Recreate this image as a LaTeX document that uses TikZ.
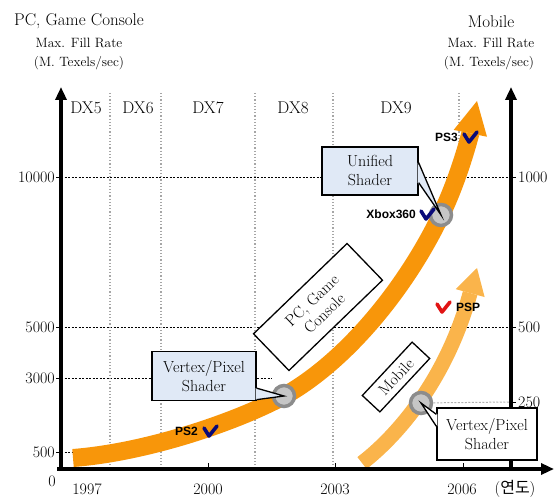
\documentclass[tikz,border=0pt]{standalone}
\usepackage{fontspec}
\newfontfamily\krfont{Noto Sans CJK KR}
\newfontfamily\tagfont{Liberation Sans}
\usetikzlibrary{arrows.meta, positioning}
\definecolor{pcorange}{RGB}{248, 150, 10}
\definecolor{moborange}{RGB}{250, 180, 75}
\definecolor{calloutblue}{RGB}{224, 233, 246}
\definecolor{checknavy}{RGB}{10, 10, 120}
\definecolor{checkred}{RGB}{225, 20, 20}
\definecolor{ringgray}{RGB}{140, 140, 140}
\definecolor{coregray}{RGB}{198, 198, 198}

\tikzset{
  axisline/.style={line width=3.5pt, -{Triangle[width=11pt, length=13pt]}},
  gridline/.style={dash pattern=on 2pt off 1.5pt, line width=1pt},
  faintline/.style={gray!60, dash pattern=on 2pt off 1.5pt, line width=1pt},
  dxline/.style={gray!70, dotted, line width=1.2pt},
  pcband/.style={pcorange, line width=18pt, -{Triangle[width=34pt, length=33pt, line width=0pt]}},
  mobband/.style={moborange, line width=15pt, -{Triangle[width=30pt, length=26pt, line width=0pt]}},
  joint/.style={circle, draw=ringgray, fill=coregray, line width=3.5pt, minimum size=21pt, inner sep=0pt},
  tag/.style={inner sep=0pt, font=\tagfont\bfseries\fontsize{12}{14}\selectfont},
  numtxt/.style={inner sep=0pt, font=\fontsize{16}{19}\selectfont},
  dxtxt/.style={inner sep=0pt, font=\fontsize{17}{20}\selectfont},
  shaderbox/.style={draw, line width=1.3pt, align=center, inner sep=1pt, font=\fontsize{16}{19}\selectfont},
  pointer/.style={line width=1.3pt, line join=miter},
  sidebox/.style={draw, fill=white, line width=1.3pt, align=center, inner sep=1pt,
    font=\fontsize{16}{18}\selectfont},
  vcheck/.pic={\draw[line width=3.6pt, line cap=round, line join=round] (-6,-3) -- (-1,5) -- (7,-5);}
}

\begin{document}
\begin{tikzpicture}[x=1pt, y=-1pt]
  \useasboundingbox (0,0) rectangle (556,497);

  % Grid
  \draw[gridline] (61,177) -- (511,177);
  \draw[gridline] (61,327) -- (511,327);
  \draw[gridline] (61,378) -- (272,378);
  \draw[gridline] (61,452) -- (100,452);
  \foreach \x in {110, 161, 255, 333}
    \draw[dxline] (\x,93) -- (\x,469);
  \draw[dxline] (459,93) -- (459,180);

  % DX eras
  \foreach \dx/\x in {DX5/86, DX6/138, DX7/208, DX8/293, DX9/396}
    \node[dxtxt] (era-\dx) at (\x,108) {\dx};

  % Growth arrows
  \draw[pcband] (73,458) .. controls (150,452) and (240,420) .. (284,396)
    .. controls (345,362) and (405,290) .. (441,215)
    .. controls (459,178) and (470,135) .. (477,101);
  \draw[mobband] (362,463) .. controls (392,440) and (445,385) .. (477,268);

  % Shader steps
  \node[joint] (pcvp) at (284,396) {};
  \node[joint] (uni) at (441,215) {};
  \node[joint] (mobvp) at (421,403) {};
  \draw[faintline] (mobvp) -- (511,402);

  % Consoles
  \coordinate (ps2) at (210,431);
  \coordinate (ps3) at (470,137);
  \coordinate (xbox) at (427,214);
  \coordinate (psp) at (443,307);
  \pic[color=checknavy] at (ps2) {vcheck};
  \pic[color=checknavy] at (ps3) {vcheck};
  \pic[color=checknavy] at (xbox) {vcheck};
  \pic[color=checkred] at (psp) {vcheck};
  \node[tag, left=12pt of ps2] (ps2-tag) {PS2};
  \node[tag, left=12pt of ps3] (ps3-tag) {PS3};
  \node[tag, left=11pt of xbox] (xbox-tag) {Xbox360};
  \node[tag, right=13pt of psp] (psp-tag) {PSP};

  % Axes
  \coordinate (ltop) at (61,87);
  \coordinate (lbot) at (61,471);
  \coordinate (rbot) at (511,471);
  \coordinate (rtop) at (511,87);
  \coordinate (bleft) at (57,469);
  \coordinate (bright) at (554,469);
  \draw[axisline] (lbot) -- (ltop);
  \draw[axisline] (rbot) -- (rtop);
  \draw[axisline] (bleft) -- (bright);
  \foreach \y in {177, 327, 378, 452}
    \draw[line width=1pt] (56,\y) -- (61,\y);
  \foreach \y in {177, 327, 402}
    \draw[line width=1pt] (511,\y) -- (516,\y);
  \foreach \x in {208, 335, 463}
    \draw[line width=1pt] (\x,469) -- (\x,463);

  % Axis values
  \node[numtxt, anchor=east] (l10000) at (55,177) {10000};
  \node[numtxt, anchor=east] (l5000) at (55,327) {5000};
  \node[numtxt, anchor=east] (l3000) at (55,378) {3000};
  \node[numtxt, anchor=east] (l500) at (55,452) {500};
  \node[numtxt] (l0) at (52,481) {0};
  \node[numtxt, anchor=west] (r1000) at (518,177) {1000};
  \node[numtxt, anchor=west] (r500) at (518,327) {500};
  \node[numtxt, anchor=west] (r250) at (518,402) {250};
  \node[numtxt] (y1997) at (87,489) {1997};
  \node[numtxt] (y2000) at (208,489) {2000};
  \node[numtxt] (y2003) at (335,489) {2003};
  \node[numtxt] (y2006) at (462,489) {2006};
  \node[numtxt] (yunit) at (515,489) {(\krfont 연도\normalfont)};

  % Axis titles
  \node[inner sep=0pt, font=\fontsize{17}{20}\selectfont] (ltitle) at (79,21) {PC, Game Console};
  \node[inner sep=0pt, font=\fontsize{13.5}{16}\selectfont] (lrate) at (79,43) {Max. Fill Rate};
  \node[inner sep=0pt, font=\fontsize{13.5}{16}\selectfont] (lunit) at (79,63) {(M. Texels/sec)};
  \node[inner sep=0pt, font=\fontsize{17}{20}\selectfont] (rtitle) at (491,22) {Mobile};
  \node[inner sep=0pt, font=\fontsize{13.5}{16}\selectfont] (rrate) at (491,43) {Max. Fill Rate};
  \node[inner sep=0pt, font=\fontsize{13.5}{16}\selectfont] (runit) at (489,63) {(M. Texels/sec)};

  % Callouts
  \node[shaderbox, fill=calloutblue, minimum width=96pt, minimum height=48pt] (uni-box) at (370,171) {Unified\\Shader};
  \fill[calloutblue] ([xshift=-1pt, yshift=13pt]uni-box.south east) -- (uni.center)
    -- ([xshift=-1pt, yshift=33pt]uni-box.south east) -- cycle;
  \draw[pointer] ([yshift=13pt]uni-box.south east) -- (uni.center) -- ([yshift=33pt]uni-box.south east);

  \node[shaderbox, fill=calloutblue, minimum width=104pt, minimum height=49pt] (pcvp-box) at (204,376) {Vertex/Pixel\\Shader};
  \fill[calloutblue] ([xshift=-1pt, yshift=1.5pt]pcvp-box.south east) -- (pcvp.center)
    -- ([xshift=-1pt, yshift=13pt]pcvp-box.south east) -- cycle;
  \draw[pointer] ([yshift=1.5pt]pcvp-box.south east) -- (pcvp.center) -- ([yshift=13pt]pcvp-box.south east);

  \node[shaderbox, fill=white, minimum width=100pt, minimum height=52pt] (mobvp-box) at (487,434) {Vertex/Pixel\\Shader};
  \fill[white] ([xshift=1pt, yshift=-7pt]mobvp-box.north west) -- (mobvp.center)
    -- ([xshift=1pt, yshift=-19pt]mobvp-box.north west) -- cycle;
  \draw[pointer] ([yshift=-7pt]mobvp-box.north west) -- (mobvp.center) -- ([yshift=-19pt]mobvp-box.north west);

  \node[sidebox, rotate=44, minimum width=130pt, minimum height=51pt] (pc-box) at (318,307) {PC, Game\\Console};
  \node[sidebox, rotate=47, minimum width=73pt, minimum height=24pt] (mob-box) at (396,377) {Mobile};
\end{tikzpicture}
\end{document}
